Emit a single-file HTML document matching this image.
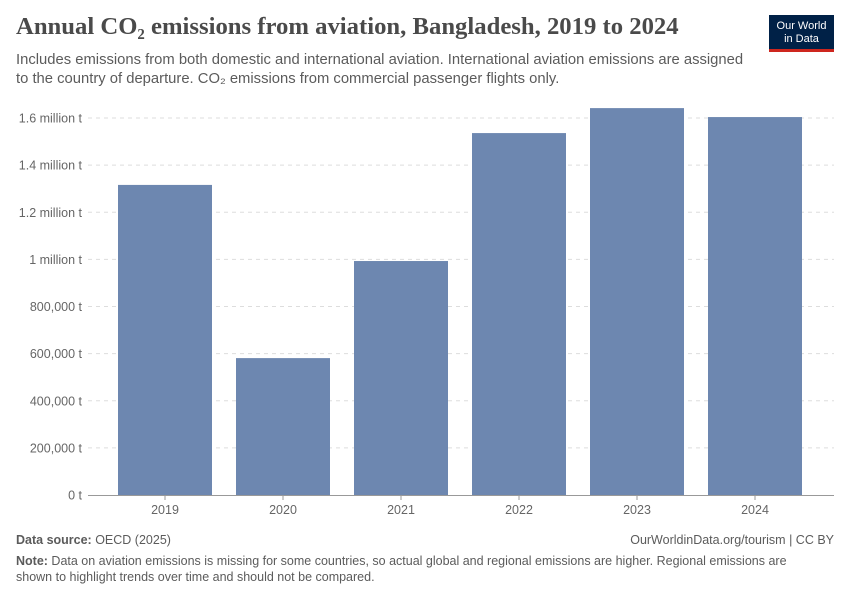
<!DOCTYPE html>
<html><head><meta charset="utf-8"><style>
body{margin:0;background:#fff;font-family:"Liberation Sans",sans-serif;}
#root{position:relative;width:850px;height:600px;overflow:hidden;}
.t{position:absolute;white-space:nowrap;}
</style></head><body><div id="root">
<div class="t" style="left:16px;top:13px;font-family:'Liberation Serif',serif;font-size:24.7px;font-weight:bold;color:#4a4a4a;">Annual CO₂ emissions from aviation, Bangladesh, 2019 to 2024</div>
<div class="t" style="left:16px;top:51px;font-size:14.8px;line-height:19px;color:#5b5b5b;">Includes emissions from both domestic and international aviation. International aviation emissions are assigned<br>to the country of departure. CO₂ emissions from commercial passenger flights only.</div>
<div style="position:absolute;left:769px;top:15px;width:65px;height:37px;background:#002147;border-bottom:3px solid #ce261e;box-sizing:border-box;color:#fff;font-size:11px;line-height:13px;text-align:center;padding-top:5px;">Our World<br>in Data</div>
<svg id="chart" width="850" height="600" style="position:absolute;left:0;top:0"></svg>
<div class="t" style="left:16px;top:533px;font-size:12.5px;color:#5b5b5b;"><b>Data source:</b> OECD (2025)</div>
<div class="t" style="right:16px;top:533px;font-size:12.5px;color:#5b5b5b;">OurWorldinData.org/tourism | CC BY</div>
<div class="t" style="left:16px;top:553px;font-size:12.5px;line-height:16px;color:#5b5b5b;"><b>Note:</b> Data on aviation emissions is missing for some countries, so actual global and regional emissions are higher. Regional emissions are<br>shown to highlight trends over time and should not be compared.</div>
</div>
<script>
const categories=["2019","2020","2021","2022","2023","2024"];
const values=[1316000,581000,993000,1536000,1642000,1604000];
const tickValues=[0,200000,400000,600000,800000,1000000,1200000,1400000,1600000];
const tickLabels=["0 t","200,000 t","400,000 t","600,000 t","800,000 t","1 million t","1.2 million t","1.4 million t","1.6 million t"];
const NS="http://www.w3.org/2000/svg";
const svg=document.getElementById('chart');
const y0=495,yPerUnit=(495-118)/1600000;
const yScale=v=>y0-v*yPerUnit;
const xStart=106,step=118,bw=94;
const xScale=i=>xStart+i*step+(step-bw)/2;
function mk(t,a){const e=document.createElementNS(NS,t);for(const k in a)e.setAttribute(k,a[k]);svg.appendChild(e);return e;}
tickValues.forEach((v,i)=>{
  const y=yScale(v);
  if(v>0){const g=mk('line',{x1:88,x2:834,y1:y,y2:y,stroke:'#ddd','stroke-dasharray':'4,4'});
  
  }
  const t=mk('text',{x:82,y:y+4.5,'text-anchor':'end','font-size':12.5,fill:'#666','font-family':'Liberation Sans, sans-serif'});
  t.textContent=tickLabels[i];
  
  
});
categories.forEach((c,i)=>{
  const x=xScale(i),y=yScale(values[i]);
  const r=mk('rect',{x:x,y:y,width:bw,height:y0-y,fill:'#6d87b0'});
  
  
  const tk=mk('line',{x1:x+bw/2,x2:x+bw/2,y1:y0,y2:y0+5,stroke:'#999'});
  
  
  const t=mk('text',{x:x+bw/2,y:y0+19,'text-anchor':'middle','font-size':12.5,fill:'#666','font-family':'Liberation Sans, sans-serif'});
  t.textContent=c;
  
  
});
const ax=mk('line',{x1:88,x2:834,y1:y0+0.5,y2:y0+0.5,stroke:'#999'});


</script></body></html>
